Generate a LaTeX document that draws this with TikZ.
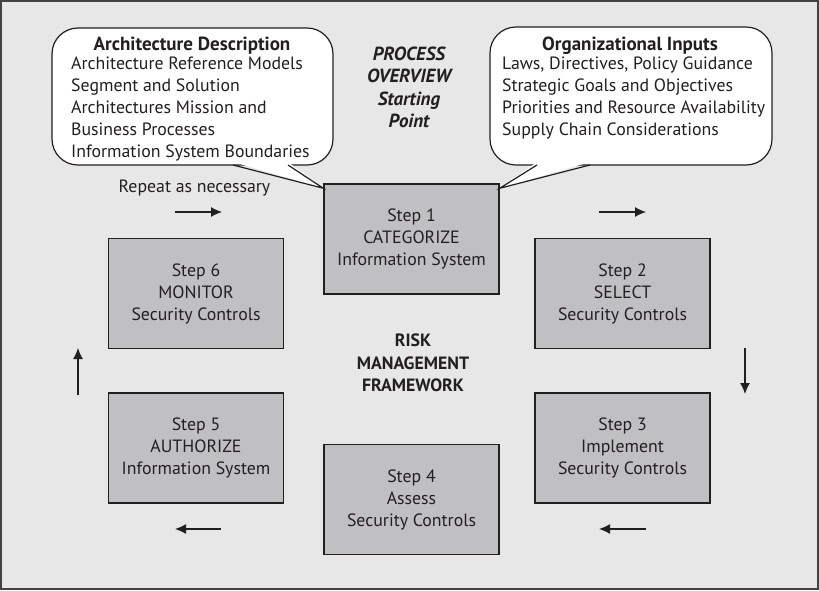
\documentclass[tikz,border=0pt]{standalone}
\usepackage{fontspec}
\setmainfont{PT Sans}
\usetikzlibrary{arrows.meta}

\definecolor{panel}{HTML}{E7E7E7}
\definecolor{stepgray}{HTML}{C0C0C2}
\definecolor{ink}{HTML}{231F20}

\begin{document}
\begin{tikzpicture}[x=1pt, y=-1pt, >={Latex[length=11pt,width=10pt]},
  every node/.style={text=ink, font=\fontsize{17.8}{22}\selectfont},
  stepbox/.style={draw=ink, line width=1.5pt, fill=stepgray, minimum width=175pt, minimum height=110pt, align=center},
  bubble/.style={draw=ink, line width=1.2pt, fill=white, rounded corners=26pt},
  flow/.style={->, line width=1.3pt, draw=ink},
  heading/.style={font=\fontsize{19}{22}\selectfont\bfseries, align=center, inner sep=0pt},
  listing/.style={anchor=north west, align=left, inner sep=0pt}]

% Draw the panel
\useasboundingbox (0,0) rectangle (819,590);
\draw[line width=2pt, draw=ink!85, fill=panel] (1,1) rectangle (818,589);

% the six steps:
\node[stepbox] (s1) at (411.5,239) {Step 1\\CATEGORIZE\\Information System};
\node[stepbox] (s2) at (622.5,293.5) {Step 2\\SELECT\\Security Controls};
\node[stepbox] (s3) at (622.5,448) {Step 3\\Implement\\Security Controls};
\node[stepbox] (s4) at (411.5,499.5) {Step 4\\Assess\\Security Controls};
\node[stepbox] (s5) at (196,448) {Step 5\\AUTHORIZE\\Information System};
\node[stepbox] (s6) at (196,293.5) {Step 6\\MONITOR\\Security Controls};

% the two callouts with their tails:
\node[bubble, minimum width=281pt, minimum height=137pt] (archbubble) at (192.5,96.5) {};
\fill[white] (233,162) -- ([yshift=-5pt]s1.north west) -- (288,162) -- cycle;
\draw[ink, line width=1.2pt, line join=miter] (233,165) -- ([yshift=-5pt]s1.north west) -- (288,165);
\node[heading, anchor=base] (archtitle) at (192,50) {Architecture Description};
\node[listing] (archlist) at (71,57) {Architecture Reference Models\\Segment and Solution\\Architectures Mission and\\Business Processes\\Information System Boundaries};

\node[bubble, minimum width=282pt, minimum height=138pt] (orgbubble) at (631,96) {};
\fill[white] (537,162) -- ([yshift=-5pt]s1.north east) -- (590,162) -- cycle;
\draw[ink, line width=1.2pt, line join=miter] (537,165) -- ([yshift=-5pt]s1.north east) -- (590,165);
\node[heading, anchor=base] (orgtitle) at (630,50) {Organizational Inputs};
\node[listing] (orglist) at (502,57) {Laws, Directives, Policy Guidance\\Strategic Goals and Objectives\\Priorities and Resource Availability\\Supply Chain Considerations};

% texts in the middle
\node[heading, font=\fontsize{19}{22.5}\selectfont\bfseries\itshape, anchor=north] (overview) at (409,46.5) {PROCESS\\OVERVIEW\\Starting\\Point};
\node[heading, font=\fontsize{17.8}{22.5}\selectfont\bfseries, anchor=north] (rmf) at (413,334) {RISK\\MANAGEMENT\\FRAMEWORK};
\node[anchor=base] (repeat) at (194.5,192) {Repeat as necessary};

% the loop arrows
\draw[flow] (175,212) -- (222,212);
\draw[flow] (599,212) -- (646,212);
\draw[flow] (745,348) -- (745,394);
\draw[flow] (646,529) -- (599,529);
\draw[flow] (221,529) -- (175,529);
\draw[flow] (78,395) -- (78,348);
\end{tikzpicture}
\end{document}
